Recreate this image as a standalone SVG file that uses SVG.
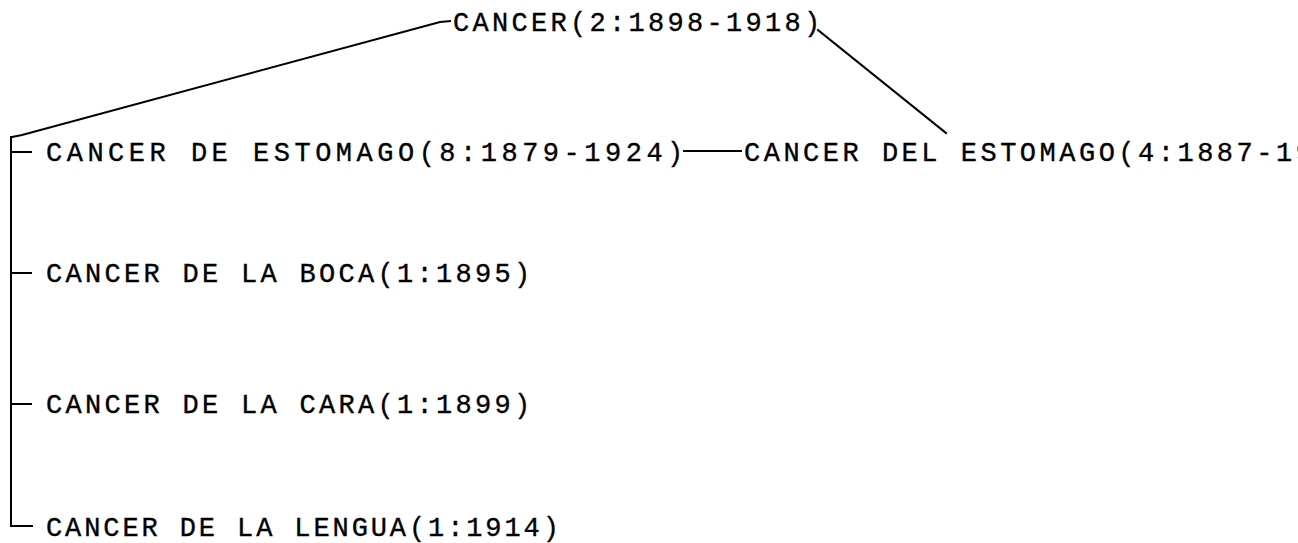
<svg xmlns="http://www.w3.org/2000/svg" width="1298" height="543" viewBox="0 0 1298 543">
  <style>
    .lbl { font-family: "Liberation Mono", "DejaVu Sans Mono", monospace; font-size: 27px; letter-spacing: 3.3px; fill: #000; stroke: #000; stroke-width: 0.35px; }
    .edge { stroke: #000; stroke-width: 2; fill: none; stroke-linecap: square; }
  </style>
  <rect width="1298" height="543" fill="#fff"/>

  <!-- connectors -->
  <g id="connectors">
    <!-- root to the bracket of children -->
    <polyline class="edge" points="12,137 22,135 440,22 450,21"/>
    <!-- root to the synonym on the right -->
    <line class="edge" x1="818" y1="30" x2="946" y2="133"/>
    <!-- bracket spine -->
    <polyline class="edge" points="11,137 11,526 32,526"/>
    <!-- bracket ticks -->
    <line class="edge" x1="11" y1="152" x2="31" y2="152"/>
    <line class="edge" x1="11" y1="273" x2="31" y2="273"/>
    <line class="edge" x1="11" y1="404" x2="31" y2="404"/>
    <!-- link between the two stomach entries -->
    <line class="edge" x1="684" y1="151" x2="741" y2="151"/>
  </g>

  <g id="node-cancer">
    <text class="lbl" x="453" y="31" style="letter-spacing:3.3px">CANCER(2:1898-1918)</text>
  </g>
  <g id="node-cancer-de-estomago">
    <text class="lbl" x="46" y="161" style="letter-spacing:4.5px">CANCER DE ESTOMAGO(8:1879-1924)</text>
  </g>
  <g id="node-cancer-del-estomago">
    <!-- runs past the right edge of the sheet -->
    <text class="lbl" x="744" y="161" style="letter-spacing:3.5px">CANCER DEL ESTOMAGO(4:1887-19</text>
  </g>
  <g id="node-cancer-de-la-boca">
    <text class="lbl" x="46" y="282">CANCER DE LA BOCA(1:1895)</text>
  </g>
  <g id="node-cancer-de-la-cara">
    <text class="lbl" x="46" y="413">CANCER DE LA CARA(1:1899)</text>
  </g>
  <g id="node-cancer-de-la-lengua">
    <text class="lbl" x="46" y="536" style="letter-spacing:2.9px">CANCER DE LA LENGUA(1:1914)</text>
  </g>
</svg>
